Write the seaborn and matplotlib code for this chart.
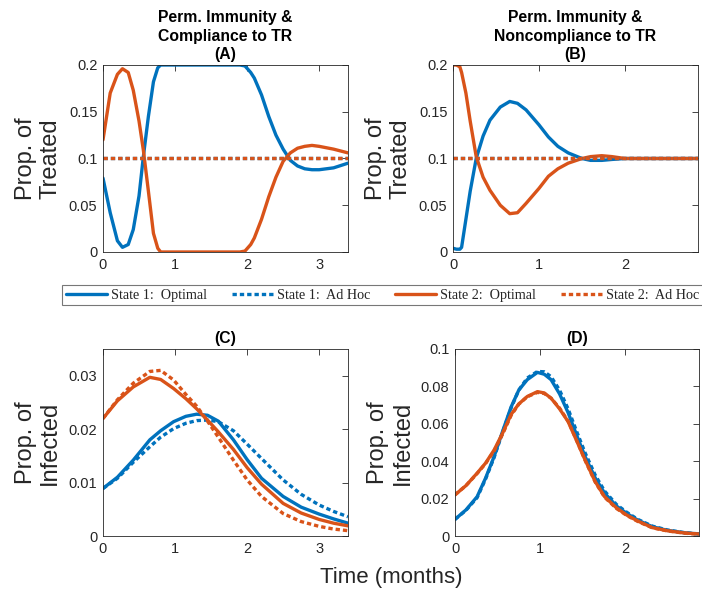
import numpy as np
import pandas as pd
import matplotlib
matplotlib.use("Agg")
import matplotlib.pyplot as plt
from matplotlib.lines import Line2D
from matplotlib.ticker import FuncFormatter
import seaborn as sns

# ---------------- data ----------------
# Panel A: permanent immunity & compliance (treated)
tA = [0, 0.1, 0.2, 0.27, 0.35, 0.42, 0.5, 0.56, 0.63, 0.7, 0.76, 0.8, 1.0, 1.5, 1.9,
      1.97, 2.05, 2.1, 2.2, 2.3, 2.4, 2.5, 2.6, 2.7, 2.8, 2.9, 3.0, 3.2, 3.4]
A_s1_opt = [0.079, 0.042, 0.012, 0.005, 0.008, 0.024, 0.060, 0.102, 0.145, 0.182, 0.197, 0.2,
            0.2, 0.2, 0.2, 0.199, 0.192, 0.186, 0.168, 0.145, 0.125, 0.110, 0.098, 0.092,
            0.089, 0.088, 0.088, 0.090, 0.095]
A_s2_opt = [0.12, 0.17, 0.19, 0.196, 0.192, 0.173, 0.14, 0.109, 0.065, 0.02, 0.004, 0.0,
            0.0, 0.0, 0.0, 0.001, 0.008, 0.015, 0.035, 0.059, 0.08, 0.097, 0.106, 0.111,
            0.113, 0.114, 0.113, 0.110, 0.106]
tA_adhoc = [0, 3.4]
A_s1_adhoc = [0.1, 0.1]
A_s2_adhoc = [0.1, 0.1]

# Panel B: permanent immunity & noncompliance (treated)
tB = [0, 0.04, 0.08, 0.1, 0.15, 0.2, 0.27, 0.35, 0.43, 0.55, 0.66, 0.75, 0.85, 1.0, 1.11,
      1.22, 1.34, 1.5, 1.6, 1.73, 1.85, 2.0, 2.2, 2.5, 2.85]
B_s1_opt = [0.004, 0.003, 0.003, 0.005, 0.035, 0.065, 0.100, 0.124, 0.141, 0.155, 0.161,
            0.159, 0.152, 0.136, 0.123, 0.113, 0.106, 0.100, 0.098, 0.098, 0.099, 0.1, 0.1,
            0.1, 0.1]
B_s2_opt = [0.2, 0.2, 0.198, 0.192, 0.17, 0.14, 0.102, 0.080, 0.066, 0.050, 0.041, 0.042,
            0.052, 0.068, 0.081, 0.089, 0.095, 0.100, 0.102, 0.103, 0.102, 0.1, 0.1, 0.1, 0.1]
tB_adhoc = [0, 2.85]
B_s1_adhoc = [0.1, 0.1]
B_s2_adhoc = [0.1, 0.1]

# Panel C: infected, compliance
tC = [0, 0.2, 0.42, 0.65, 0.8, 0.98, 1.15, 1.3, 1.45, 1.6, 1.81, 2.0, 2.2, 2.5, 2.75,
      3.0, 3.2, 3.4]
C_s1_opt = [0.0089, 0.011, 0.0142, 0.018, 0.0197, 0.0214, 0.0224, 0.0228, 0.0226, 0.0215,
            0.018, 0.0143, 0.0108, 0.0074, 0.0054, 0.0041, 0.0032, 0.0024]
C_s1_adhoc = [0.0089, 0.0108, 0.0138, 0.0167, 0.0185, 0.0201, 0.0211, 0.0216, 0.0217,
              0.0214, 0.0197, 0.0172, 0.0145, 0.0105, 0.0078, 0.0058, 0.0046, 0.0036]
C_s2_opt = [0.022, 0.0253, 0.0279, 0.0297, 0.0293, 0.0276, 0.0257, 0.0238, 0.0217, 0.0195,
            0.0162, 0.0128, 0.0097, 0.0061, 0.0043, 0.0031, 0.0024, 0.0019]
C_s2_adhoc = [0.022, 0.0255, 0.0286, 0.0308, 0.031, 0.0292, 0.0265, 0.0243, 0.0215, 0.0185,
              0.0142, 0.0105, 0.0074, 0.0042, 0.0027, 0.0018, 0.0013, 0.001]

# Panel D: infected, noncompliance
tD = [0, 0.13, 0.26, 0.36, 0.46, 0.56, 0.66, 0.75, 0.85, 0.97, 1.05, 1.13, 1.23, 1.33,
      1.43, 1.53, 1.65, 1.76, 1.9, 2.02, 2.15, 2.32, 2.5, 2.7, 2.9]
D_s1_opt = [0.0089, 0.014, 0.021, 0.031, 0.0425, 0.056, 0.069, 0.078, 0.0836, 0.0875,
            0.0865, 0.0836, 0.076, 0.066, 0.054, 0.0425, 0.031, 0.0229, 0.016, 0.0121,
            0.0085, 0.005, 0.003, 0.0017, 0.001]
D_s1_adhoc = [0.0089, 0.0138, 0.0205, 0.0305, 0.042, 0.0555, 0.0685, 0.078, 0.0845, 0.088,
              0.0878, 0.0852, 0.078, 0.068, 0.056, 0.0445, 0.0325, 0.024, 0.0168, 0.0127,
              0.0089, 0.0053, 0.0032, 0.0018, 0.001]
D_s2_opt = [0.022, 0.027, 0.0336, 0.039, 0.046, 0.055, 0.065, 0.0706, 0.0746, 0.0772,
            0.0765, 0.0737, 0.068, 0.0612, 0.051, 0.0407, 0.029, 0.021, 0.015, 0.0112,
            0.008, 0.0045, 0.0028, 0.0016, 0.001]
D_s2_adhoc = [0.022, 0.027, 0.0334, 0.0388, 0.0455, 0.0545, 0.0645, 0.0705, 0.0745, 0.0768,
              0.0762, 0.0737, 0.0684, 0.0614, 0.0512, 0.0405, 0.0288, 0.0207, 0.0147,
              0.011, 0.0078, 0.0044, 0.0027, 0.0015, 0.0009]

legend_labels = ["State 1:  Optimal", "State 1:  Ad Hoc", "State 2:  Optimal", "State 2:  Ad Hoc"]
titles = ["Perm. Immunity &\nCompliance to TR\n(A)", "Perm. Immunity &\nNoncompliance to TR\n(B)",
          "(C)", "(D)"]

# ---------------- style ----------------
sns.set_theme(style="white")
plt.rcParams["font.family"] = ["Liberation Sans", "DejaVu Sans"]
BLUE = "#0072BD"
ORANGE = "#D95319"
LW = 2.4
DOT = (0, (1.3, 0.9))
DARK = "#262626"

fig = plt.figure(figsize=(7.02, 5.90), dpi=100)
W, H = 702, 590


def add_ax(l, t, r, b):
    return fig.add_axes([l / W, 1 - b / H, (r - l) / W, (b - t) / H])


axA = add_ax(103, 65, 348, 252)
axB = add_ax(453, 65, 698, 252)
axC = add_ax(103, 349, 348, 536)
axD = add_ax(455, 349, 699, 536)


def line(ax, x, y, color, ls):
    df = pd.DataFrame({"t": x, "v": y})
    sns.lineplot(data=df, x="t", y="v", ax=ax, color=color, lw=LW, linestyle=ls,
                 sort=False, estimator=None, legend=False)


def fmt(v, pos):
    return ("%g" % round(v, 4))


def style(ax, xlim, ylim, xticks, yticks, ylabel, title):
    ax.set_xlim(*xlim)
    ax.set_ylim(*ylim)
    ax.set_xticks(xticks)
    ax.set_yticks(yticks)
    ax.yaxis.set_major_formatter(FuncFormatter(fmt))
    ax.xaxis.set_major_formatter(FuncFormatter(fmt))
    ax.tick_params(direction="in", length=4, width=0.6, colors=DARK, labelsize=10.5,
                   top=True, right=True, pad=4)
    for s in ax.spines.values():
        s.set_color(DARK)
        s.set_linewidth(0.6)
        s.set_visible(True)
    ax.set_xlabel("")
    ax.set_ylabel(ylabel, fontsize=17, color=DARK, linespacing=1.15)
    ax.yaxis.set_label_coords(-0.17, 0.5)
    ax.set_title(title, fontsize=11.3, fontweight="bold", color="black", linespacing=1.3, pad=4)


# A
line(axA, tA, A_s1_opt, BLUE, "-")
line(axA, tA, A_s2_opt, ORANGE, "-")
line(axA, tA_adhoc, A_s1_adhoc, BLUE, DOT)
line(axA, tA_adhoc, A_s2_adhoc, ORANGE, DOT)
style(axA, (0, 3.4), (0, 0.2), [0, 1, 2, 3], [0, 0.05, 0.1, 0.15, 0.2], "Prop. of\nTreated", titles[0])

# B
line(axB, tB, B_s1_opt, BLUE, "-")
line(axB, tB, B_s2_opt, ORANGE, "-")
line(axB, tB_adhoc, B_s1_adhoc, BLUE, DOT)
line(axB, tB_adhoc, B_s2_adhoc, ORANGE, DOT)
style(axB, (0, 2.85), (0, 0.2), [0, 1, 2], [0, 0.05, 0.1, 0.15, 0.2], "Prop. of\nTreated", titles[1])

# C
line(axC, tC, C_s1_opt, BLUE, "-")
line(axC, tC, C_s1_adhoc, BLUE, DOT)
line(axC, tC, C_s2_opt, ORANGE, "-")
line(axC, tC, C_s2_adhoc, ORANGE, DOT)
style(axC, (0, 3.4), (0, 0.035), [0, 1, 2, 3], [0, 0.01, 0.02, 0.03], "Prop. of\nInfected", titles[2])

# D
line(axD, tD, D_s1_opt, BLUE, "-")
line(axD, tD, D_s1_adhoc, BLUE, DOT)
line(axD, tD, D_s2_opt, ORANGE, "-")
line(axD, tD, D_s2_adhoc, ORANGE, DOT)
style(axD, (0, 2.87), (0, 0.1), [0, 1, 2], [0, 0.02, 0.04, 0.06, 0.08, 0.1], "Prop. of\nInfected", titles[3])

fig.text(391 / W, 1 - 577 / H, "Time (months)", ha="center", va="center", fontsize=16, color=DARK)

# legend
handles = [Line2D([], [], color=BLUE, lw=LW, ls="-"),
           Line2D([], [], color=BLUE, lw=LW, ls=DOT),
           Line2D([], [], color=ORANGE, lw=LW, ls="-"),
           Line2D([], [], color=ORANGE, lw=LW, ls=DOT)]
leg = fig.legend(handles, legend_labels, ncol=4, loc="upper left",
                 bbox_to_anchor=(62 / W, 1 - 285 / H), frameon=True, fancybox=False,
                 prop={"family": ["Liberation Serif", "DejaVu Serif"], "size": 10.2},
                 handlelength=2.9, handletextpad=0.3, columnspacing=1.75,
                 borderpad=0.25, borderaxespad=0)
leg.get_frame().set_edgecolor("#555555")
leg.get_frame().set_linewidth(0.8)

fig.savefig("out.png", dpi=100)
